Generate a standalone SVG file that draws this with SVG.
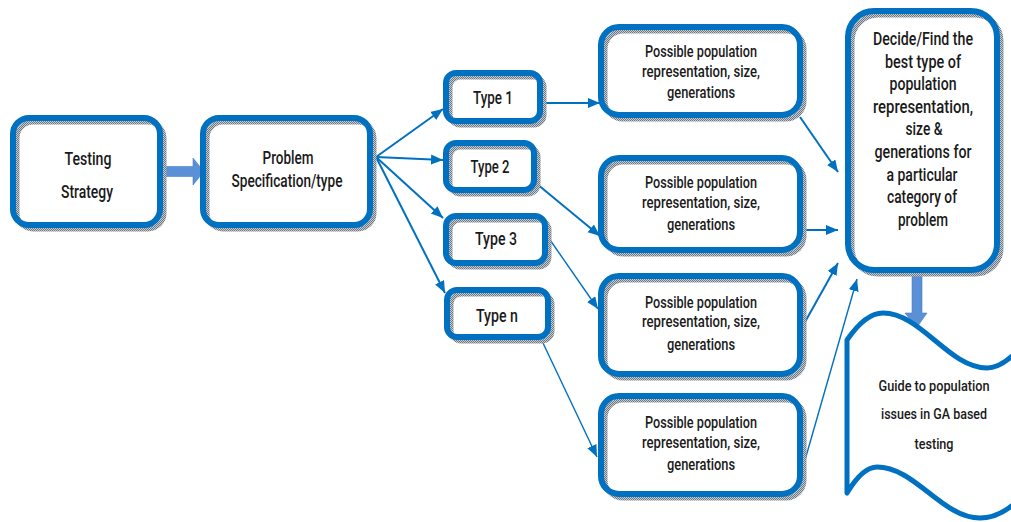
<svg xmlns="http://www.w3.org/2000/svg" width="1011" height="522" viewBox="0 0 1011 522">
  <style>
    .bg { fill: #ffffff; stroke: none; }
    .shadow { fill: none; stroke: url(#dither); stroke-width: 5; }
    .frame { fill: none; stroke: #0070c0; stroke-width: 6; }
    .label { font-family: Roboto, "Liberation Sans", Arial, sans-serif; font-weight: 500; fill: #1a1a1a; text-anchor: middle; }
    .link { fill: none; stroke: #0070c0; stroke-width: 2; marker-end: url(#head); }
    .thin { stroke-width: 1.4; }
    .block { fill: #5b8fd6; stroke: #4a7fc9; stroke-width: 0.6; }
  </style>
  <defs>
    <pattern id="dither" width="2" height="2" patternUnits="userSpaceOnUse">
      <rect width="2" height="2" fill="#c7ccd0"/>
      <rect width="1" height="1" fill="#6d7781"/>
      <rect x="1" y="1" width="1" height="1" fill="#6d7781"/>
    </pattern>
    <marker id="head" markerUnits="userSpaceOnUse" markerWidth="13" markerHeight="11" refX="12" refY="5" orient="auto">
      <path d="M0,0 L12,5 L0,10 Z" fill="#0070c0"/>
    </marker>
  </defs>

  <!-- connectors -->
  <g id="connectors">
    <path class="block" d="M163,166.5 H193 V158 L204,171.5 L193,185 V176.5 H163 Z"/>
    <path class="link" d="M376,157 L443,109"/>
    <path class="link" d="M376,157 L443,160"/>
    <path class="link" d="M376,157 L443,218"/>
    <path class="link" d="M376,157 L445,293"/>
    <path class="link" d="M543,103 L600,103"/>
    <path class="link" d="M537,184 L600,236"/>
    <path class="link thin" d="M548,237 L598,309"/>
    <path class="link thin" d="M543,343 L597,457"/>
    <path class="link" d="M800,117 L838,172"/>
    <path class="link" d="M805,230 L838,230"/>
    <path class="link" d="M805,322 L838,263"/>
    <path class="link thin" d="M805,460 L857,279"/>
    <path class="block" d="M912,272 H922 V313 H927 L916.5,328 L905,313 H912 Z"/>
  </g>

  <g id="testing-strategy">
    <rect class="bg" x="13" y="118" width="147" height="107" rx="16"/>
    <rect class="shadow" x="17" y="122" width="147" height="107" rx="16"/>
    <rect class="frame" x="13" y="118" width="147" height="107" rx="16"/>
    <text class="label" x="88" y="165" font-size="19" textLength="47" lengthAdjust="spacingAndGlyphs">Testing</text>
    <text class="label" x="87" y="198" font-size="19" textLength="52" lengthAdjust="spacingAndGlyphs">Strategy</text>
  </g>

  <g id="problem-spec">
    <rect class="bg" x="203" y="118" width="167" height="107" rx="16"/>
    <rect class="shadow" x="207" y="122" width="167" height="107" rx="16"/>
    <rect class="frame" x="203" y="118" width="167" height="107" rx="16"/>
    <text class="label" x="288" y="164" font-size="19" textLength="51" lengthAdjust="spacingAndGlyphs">Problem</text>
    <text class="label" x="287" y="187" font-size="19" textLength="111" lengthAdjust="spacingAndGlyphs">Specification/type</text>
  </g>

  <g id="type-1">
    <rect class="bg" x="446" y="73" width="94" height="48" rx="10"/>
    <rect class="shadow" x="450" y="77" width="94" height="48" rx="10"/>
    <rect class="frame" x="446" y="73" width="94" height="48" rx="10"/>
    <text class="label" x="493" y="104" font-size="17.5" textLength="40" lengthAdjust="spacingAndGlyphs">Type 1</text>
  </g>

  <g id="type-2">
    <rect class="bg" x="446" y="143" width="88" height="47" rx="10"/>
    <rect class="shadow" x="450" y="147" width="88" height="47" rx="10"/>
    <rect class="frame" x="446" y="143" width="88" height="47" rx="10"/>
    <text class="label" x="490" y="173" font-size="17.5" textLength="39" lengthAdjust="spacingAndGlyphs">Type 2</text>
  </g>

  <g id="type-3">
    <rect class="bg" x="446" y="216" width="99" height="47" rx="10"/>
    <rect class="shadow" x="450" y="220" width="99" height="47" rx="10"/>
    <rect class="frame" x="446" y="216" width="99" height="47" rx="10"/>
    <text class="label" x="496" y="245" font-size="17.5" textLength="42" lengthAdjust="spacingAndGlyphs">Type 3</text>
  </g>

  <g id="type-n">
    <rect class="bg" x="447" y="290" width="101" height="47" rx="10"/>
    <rect class="shadow" x="451" y="294" width="101" height="47" rx="10"/>
    <rect class="frame" x="447" y="290" width="101" height="47" rx="10"/>
    <text class="label" x="497" y="322" font-size="17.5" textLength="42" lengthAdjust="spacingAndGlyphs">Type n</text>
  </g>

  <g id="population-1">
    <rect class="bg" x="601" y="27" width="199" height="88" rx="18"/>
    <rect class="shadow" x="605" y="31" width="199" height="88" rx="18"/>
    <rect class="frame" x="601" y="27" width="199" height="88" rx="18"/>
    <text class="label" x="701" y="57" font-size="16" textLength="112" lengthAdjust="spacingAndGlyphs">Possible population</text>
    <text class="label" x="701" y="77" font-size="16" textLength="118" lengthAdjust="spacingAndGlyphs">representation, size,</text>
    <text class="label" x="701" y="98" font-size="16" textLength="68" lengthAdjust="spacingAndGlyphs">generations</text>
  </g>

  <g id="population-2">
    <rect class="bg" x="601" y="158" width="199" height="92" rx="18"/>
    <rect class="shadow" x="605" y="162" width="199" height="92" rx="18"/>
    <rect class="frame" x="601" y="158" width="199" height="92" rx="18"/>
    <text class="label" x="701" y="188" font-size="16" textLength="112" lengthAdjust="spacingAndGlyphs">Possible population</text>
    <text class="label" x="701" y="208" font-size="16" textLength="118" lengthAdjust="spacingAndGlyphs">representation, size,</text>
    <text class="label" x="701" y="230" font-size="16" textLength="68" lengthAdjust="spacingAndGlyphs">generations</text>
  </g>

  <g id="population-3">
    <rect class="bg" x="601" y="276" width="199" height="98" rx="18"/>
    <rect class="shadow" x="605" y="280" width="199" height="98" rx="18"/>
    <rect class="frame" x="601" y="276" width="199" height="98" rx="18"/>
    <text class="label" x="701" y="308" font-size="16" textLength="112" lengthAdjust="spacingAndGlyphs">Possible population</text>
    <text class="label" x="701" y="327" font-size="16" textLength="118" lengthAdjust="spacingAndGlyphs">representation, size,</text>
    <text class="label" x="701" y="350" font-size="16" textLength="68" lengthAdjust="spacingAndGlyphs">generations</text>
  </g>

  <g id="population-4">
    <rect class="bg" x="601" y="396" width="199" height="98" rx="18"/>
    <rect class="shadow" x="605" y="400" width="199" height="98" rx="18"/>
    <rect class="frame" x="601" y="396" width="199" height="98" rx="18"/>
    <text class="label" x="701" y="428" font-size="16" textLength="112" lengthAdjust="spacingAndGlyphs">Possible population</text>
    <text class="label" x="701" y="448" font-size="16" textLength="118" lengthAdjust="spacingAndGlyphs">representation, size,</text>
    <text class="label" x="701" y="470" font-size="16" textLength="68" lengthAdjust="spacingAndGlyphs">generations</text>
  </g>

  <g id="decide-best">
    <rect class="bg" x="848" y="11" width="149" height="259" rx="26"/>
    <rect class="shadow" x="852" y="15" width="149" height="259" rx="26"/>
    <rect class="frame" x="848" y="11" width="149" height="259" rx="26"/>
    <text class="label" x="923" y="45" font-size="17.5" textLength="100" lengthAdjust="spacingAndGlyphs">Decide/Find the</text>
    <text class="label" x="923" y="67.6" font-size="17.5" textLength="76" lengthAdjust="spacingAndGlyphs">best type of</text>
    <text class="label" x="923" y="90.2" font-size="17.5" textLength="67" lengthAdjust="spacingAndGlyphs">population</text>
    <text class="label" x="923" y="112.8" font-size="17.5" textLength="100" lengthAdjust="spacingAndGlyphs">representation,</text>
    <text class="label" x="924" y="135.4" font-size="17.5" textLength="37" lengthAdjust="spacingAndGlyphs">size &amp;</text>
    <text class="label" x="923" y="158" font-size="17.5" textLength="97" lengthAdjust="spacingAndGlyphs">generations for</text>
    <text class="label" x="922" y="180.6" font-size="17.5" textLength="71" lengthAdjust="spacingAndGlyphs">a particular</text>
    <text class="label" x="922" y="203.2" font-size="17.5" textLength="70" lengthAdjust="spacingAndGlyphs">category of</text>
    <text class="label" x="923" y="225.8" font-size="17.5" textLength="50" lengthAdjust="spacingAndGlyphs">problem</text>
  </g>

  <g id="population-guide">
    <path d="M847,340 C858,324 870,313 883,313 C921,313 949,368 987,368 C1000,368 1012,358 1024,344 L1024,494 C1010,510 996,518 980,518 C942,518 915,467 877,467 C866,467 856,478 847,493 Z" fill="#ffffff" stroke="#0070c0" stroke-width="5" stroke-linejoin="round"/>
    <text class="label" x="934" y="391" font-size="15.5" textLength="111" lengthAdjust="spacingAndGlyphs">Guide to population</text>
    <text class="label" x="934" y="419" font-size="15.5" textLength="106" lengthAdjust="spacingAndGlyphs">issues in GA based</text>
    <text class="label" x="934" y="449" font-size="15.5" textLength="39" lengthAdjust="spacingAndGlyphs">testing</text>
  </g>
</svg>
